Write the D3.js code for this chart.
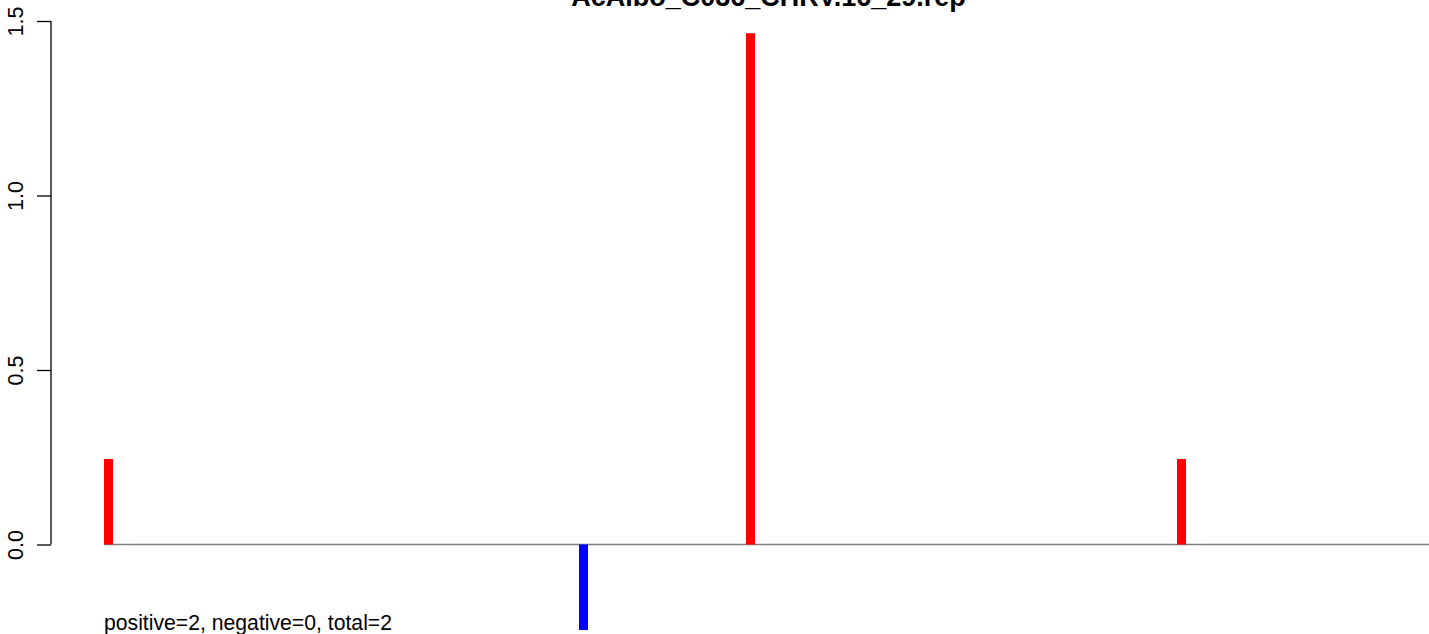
<!DOCTYPE html>
<html>
<head>
<meta charset="utf-8">
<script src="https://cdn.jsdelivr.net/npm/d3@7"></script>
<style>
  html, body { margin: 0; padding: 0; background: #fff; }
  svg { display: block; }
  text { font-family: "Liberation Sans", Arial, sans-serif; }
</style>
</head>
<body>
<svg id="chart" width="1429" height="634"></svg>
<script>
// ---- data ----
const chartTitle = "AcAlbo_C036_CHRV.16_29.rep";
const positions = [4.75, 52.25, 68.95, 112.05];
const values = [0.245, -0.245, 1.465, 0.245];
const yTicks = [0.0, 0.5, 1.0, 1.5];
const summaryText = "positive=2, negative=0, total=2";

// ---- layout ----
const W = 1429, H = 634;
const axisX = 51;
const svg = d3.select("#chart");

const x = d3.scaleLinear().domain([0, 140]).range([61, 1461]);
const y = d3.scaleLinear().domain([0, 1.5]).range([544.5, 21]);

svg.append("defs").append("clipPath").attr("id", "clip")
  .append("rect").attr("x", 0).attr("y", 0).attr("width", W).attr("height", 630.5);

// baseline
svg.append("line")
  .attr("x1", x(positions[0]) - 4.5).attr("x2", W)
  .attr("y1", y(0)).attr("y2", y(0))
  .attr("stroke", "#7f7f7f").attr("stroke-width", 1.5);

// bars
svg.append("g").attr("clip-path", "url(#clip)")
  .selectAll("rect").data(positions.map((p, i) => ({p, v: values[i]})))
  .join("rect")
  .attr("x", d => x(d.p) - 4.5)
  .attr("width", 9)
  .attr("y", d => Math.min(y(d.v), y(0)))
  .attr("height", d => Math.abs(y(d.v) - y(0)))
  .attr("fill", d => d.v >= 0 ? "#ff0000" : "#0000ff");

// y axis
const yAxis = d3.axisLeft(y).tickValues(yTicks).tickSize(14).tickPadding(0)
  .tickFormat(d3.format(".1f"));
const gy = svg.append("g").attr("transform", `translate(${axisX},0)`).call(yAxis);
gy.select(".domain").attr("stroke", "#000").attr("stroke-width", 1.3)
  .attr("d", `M0,${y(1.5)}V${y(0)}`);
gy.selectAll(".tick line").attr("stroke", "#000").attr("stroke-width", 1.3);
gy.selectAll(".tick text")
  .attr("x", 0).attr("y", 0).attr("dy", null)
  .attr("text-anchor", "middle")
  .attr("transform", `translate(${22.5 - axisX},0) rotate(-90)`)
  .attr("font-size", 21.5).attr("fill", "#000")
  .style("font-family", "'Liberation Sans', Arial, sans-serif");

// title
svg.append("text")
  .attr("x", 768.5).attr("y", 6)
  .attr("text-anchor", "middle")
  .attr("font-weight", "bold").attr("font-size", 27)
  .text(chartTitle);

// summary
svg.append("text")
  .attr("x", 104).attr("y", 630)
  .attr("font-size", 21.2)
  .text(summaryText);
</script>
</body>
</html>
